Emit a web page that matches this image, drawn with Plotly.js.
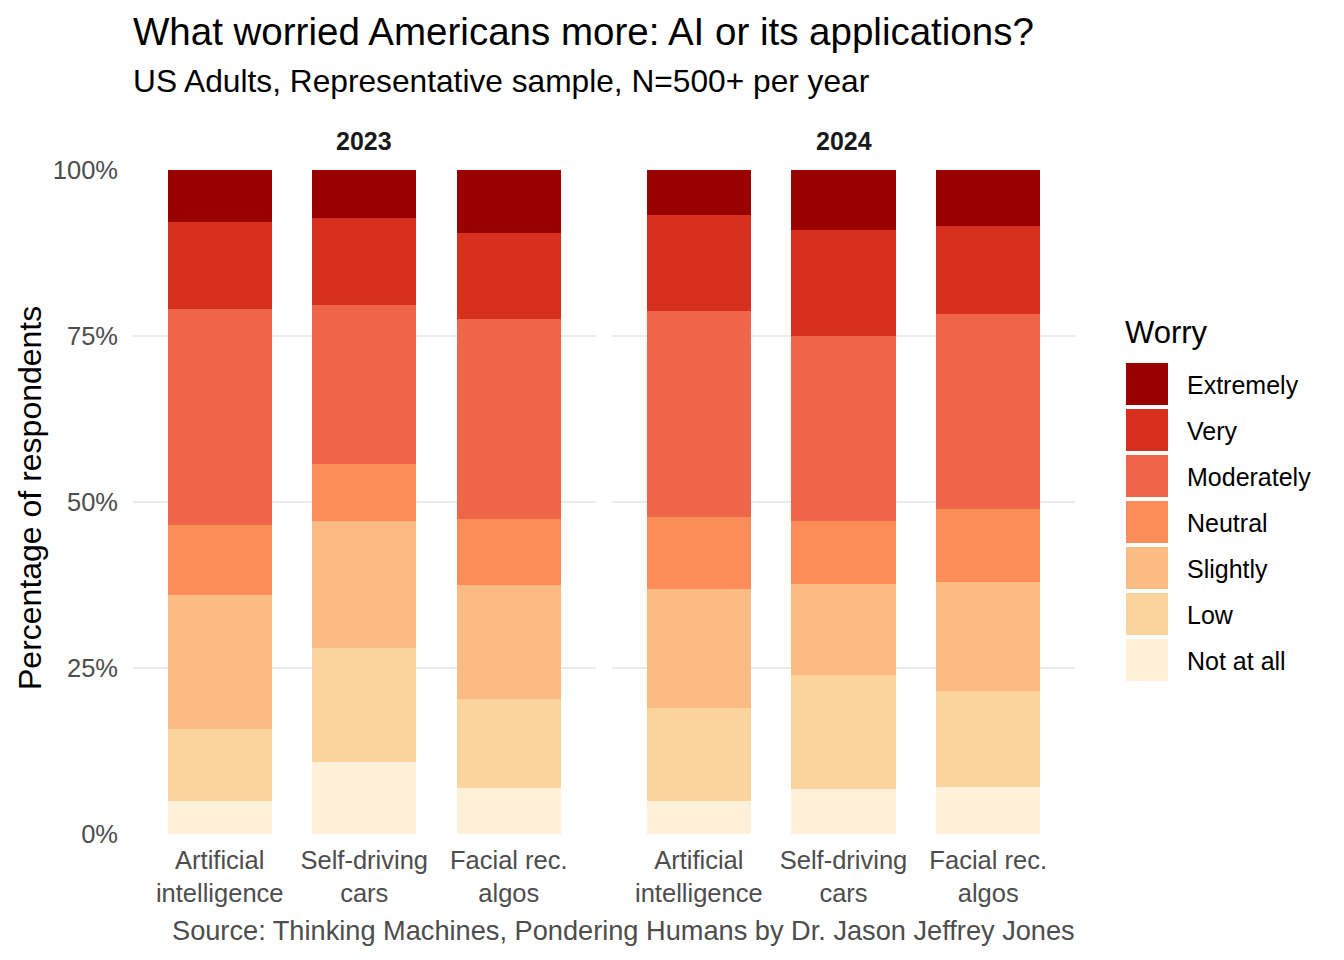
<!DOCTYPE html>
<html>
<head>
<meta charset="utf-8">
<script src="https://cdn.plot.ly/plotly-3.0.1.min.js"></script>
<style>
  html, body { margin: 0; padding: 0; background: #ffffff; }
  #chart { width: 1344px; height: 960px; }
</style>
</head>
<body>
<div id="chart"></div>
<script>
// Worry levels, bottom of the stack first.
const levels = ['Not at all', 'Low', 'Slightly', 'Neutral', 'Moderately', 'Very', 'Extremely'];
const levelColors = ['#FEF0D9', '#FDD49E', '#FDBB84', '#FC8D59', '#EF6548', '#D7301F', '#990000'];

const categories = ['Artificial<br>intelligence', 'Self-driving<br>cars', 'Facial rec.<br>algos'];
const years = ['2023', '2024'];

// Share of respondents (%) per level, same order as levels.
const ai2023 = [5.0, 10.8, 20.2, 10.5, 32.5, 13.2, 7.8];
const cars2023 = [10.9, 17.1, 19.1, 8.6, 24.0, 13.1, 7.2];
const facial2023 = [7.0, 13.4, 17.1, 9.9, 30.2, 12.9, 9.5];
const ai2024 = [5.0, 14.0, 17.9, 10.8, 31.0, 14.5, 6.8];
const cars2024 = [6.8, 17.1, 13.7, 9.6, 27.8, 15.9, 9.1];
const facial2024 = [7.1, 14.4, 16.4, 11.1, 29.3, 13.2, 8.5];

const yTicks = [0, 25, 50, 75, 100];
const yTickText = ['0%', '25%', '50%', '75%', '100%'];

const FONT = 'Liberation Sans, Arial, sans-serif';
const byYear = { '2023': [ai2023, cars2023, facial2023], '2024': [ai2024, cars2024, facial2024] };

// Plot area in pixels, used to place the facet strips, legend and captions.
const L = 133, R = 1075, T = 170, B = 834;
const px = x => (x - L) / (R - L);
const py = y => (B - y) / (B - T);

// One stacked trace per level and per year panel.
const traces = [];
years.forEach((year, yi) => {
    levels.forEach((level, li) => {
        traces.push({
            x: categories,
            y: byYear[year].map(cat => cat[li]),
            name: level,
            type: 'bar',
            xaxis: yi === 0 ? 'x' : 'x2',
            yaxis: 'y',
            marker: { color: levelColors[li], line: { width: 0 } },
            showlegend: false,
            hoverinfo: 'skip'
        });
    });
});

const xAxisStyle = {
    type: 'category',
    range: [-0.6, 2.6],
    showgrid: false, zeroline: false, showline: false,
    ticks: '', ticklabelstandoff: 8,
    tickfont: { family: FONT, size: 25.5, color: '#4D4D4D' },
    fixedrange: true
};

// Facet strip labels.
const annotations = years.map((year, yi) => ({
    text: '<b>' + year + '</b>',
    xref: yi === 0 ? 'x domain' : 'x2 domain', x: 0.5,
    yref: 'paper', y: py(141), yanchor: 'middle',
    showarrow: false,
    font: { family: FONT, size: 25, color: '#1A1A1A' }
}));

annotations.push({
    text: 'US Adults, Representative sample, N=500+ per year',
    xref: 'paper', x: px(131), xanchor: 'left',
    yref: 'paper', y: py(81), yanchor: 'middle',
    showarrow: false,
    font: { family: FONT, size: 31.7, color: '#000000' }
});
annotations.push({
    text: 'Percentage of respondents',
    xref: 'paper', x: px(30), xanchor: 'center',
    yref: 'paper', y: py(498), yanchor: 'middle',
    textangle: -90, showarrow: false,
    font: { family: FONT, size: 32, color: '#000000' }
});
annotations.push({
    text: 'Source: Thinking Machines, Pondering Humans by Dr. Jason Jeffrey Jones',
    xref: 'paper', x: px(1077), xanchor: 'right',
    yref: 'paper', y: py(930), yanchor: 'middle',
    showarrow: false,
    font: { family: FONT, size: 27.2, color: '#4D4D4D' }
});

// Legend drawn by hand so the keys get ggplot-sized squares.
annotations.push({
    text: 'Worry',
    xref: 'paper', x: px(1123), xanchor: 'left',
    yref: 'paper', y: py(332), yanchor: 'middle',
    showarrow: false,
    font: { family: FONT, size: 31, color: '#000000' }
});
const shapes = [];
levels.slice().reverse().forEach((level, i) => {
    const top = 363 + i * 46;
    shapes.push({
        type: 'rect', xref: 'paper', yref: 'paper',
        x0: px(1126), x1: px(1168), y0: py(top + 42), y1: py(top),
        fillcolor: levelColors[levels.length - 1 - i], line: { width: 0 }
    });
    annotations.push({
        text: level,
        xref: 'paper', x: px(1185), xanchor: 'left',
        yref: 'paper', y: py(top + 22), yanchor: 'middle',
        showarrow: false,
        font: { family: FONT, size: 25, color: '#000000' }
    });
});

Plotly.newPlot('chart', traces, {
    width: 1344,
    height: 960,
    margin: { l: L, r: 1344 - R, t: T, b: 960 - B },
    paper_bgcolor: '#ffffff',
    plot_bgcolor: '#ffffff',
    font: { family: FONT },
    title: {
        text: 'What worried Americans more: AI or its applications?',
        xref: 'container', x: 133 / 1344, xanchor: 'left',
        yref: 'container', y: 1 - 32 / 960, yanchor: 'middle',
        font: { family: FONT, size: 38.5, color: '#000000' }
    },
    barmode: 'stack',
    bargap: 0.28,
    showlegend: false,
    xaxis: Object.assign({ domain: [0, 0.491], anchor: 'y' }, xAxisStyle),
    xaxis2: Object.assign({ domain: [0.5085, 1], anchor: 'y' }, xAxisStyle),
    yaxis: {
        range: [0, 100],
        tickvals: yTicks, ticktext: yTickText,
        showgrid: true, gridcolor: '#EBEBEB', gridwidth: 2.7,
        zeroline: false, showline: false,
        ticks: '', ticklabelstandoff: 14,
        tickfont: { family: FONT, size: 25.5, color: '#4D4D4D' },
        fixedrange: true
    },
    annotations: annotations,
    shapes: shapes
}, { displayModeBar: false, staticPlot: true });
</script>
</body>
</html>
